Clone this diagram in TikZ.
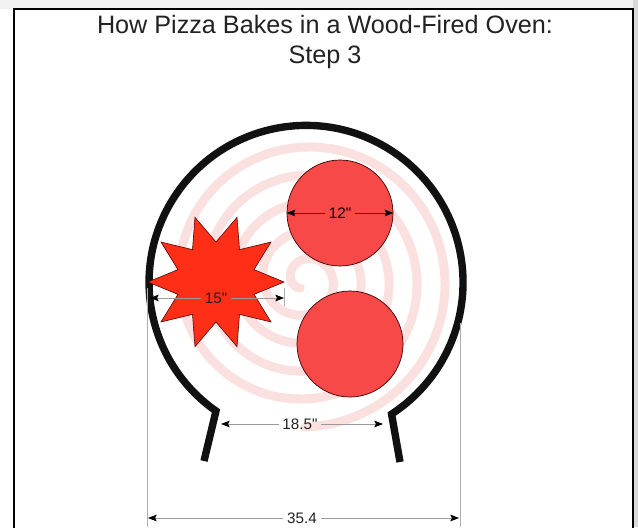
\documentclass[tikz,border=0pt]{standalone}
\usepackage{fontspec}
\setmainfont{Liberation Sans}[Ligatures=TeXOff]
\usetikzlibrary{arrows.meta,shapes.geometric}
\definecolor{OvenInk}{HTML}{111111}
\definecolor{PizzaRed}{HTML}{F74A48}
\definecolor{FlameRed}{HTML}{FF2E16}
\definecolor{SpiralPink}{HTML}{FBE0E0}
\definecolor{DimGray}{HTML}{9A9A9A}
\definecolor{TextDark}{HTML}{222222}
\tikzset{
  pizza/.style={circle,draw=black!75!red,line width=0.6pt,fill=PizzaRed,minimum size=3.18cm,inner sep=0pt},
  flame/.style={star,star points=10,star point ratio=1.7,shape border rotate=18,draw=black!65!red,line width=0.5pt,fill=FlameRed,minimum size=4.08cm,inner sep=0pt},
  ovenwall/.style={draw=OvenInk,line width=6.3pt,line join=miter},
  dimline/.style={draw=DimGray,line width=0.6pt,-{Stealth[length=2.6mm,width=2mm,inset=0.5mm,color=black]}},
  dimdark/.style={dimline,draw=black!85},
  extline/.style={draw=DimGray!80,line width=0.5pt},
  dimlabel/.style={font=\fontsize{13}{15}\selectfont,text=TextDark,inner sep=3pt},
  titletext/.style={font=\fontsize{21.5}{25.6}\selectfont,text=TextDark,align=center}
}
\begin{document}
\begin{tikzpicture}[x=0.03cm,y=-0.03cm]
\useasboundingbox (0,0) rectangle (638,527);
\fill[gray!10] (0,0) rectangle (638,9);
\fill[gray!30] (633,0) rectangle (638,527);
\draw[line width=1.2pt] (14,530) -- (14,9) -- (633,9) -- (633,530);

\node[titletext] (title) at (325,42) {How Pizza Bakes in a Wood-Fired Oven:\\Step 3};

% heat swirl
\draw[SpiralPink,line width=0.27cm,line cap=round]
  plot[domain=120:1890,samples=400,variable=\t] ({305+\t/360*28*cos(\t)},{280+\t/360*28*sin(\t)});

% oven wall
\coordinate (footL) at (204,461);
\coordinate (cornerL) at (216,411);
\coordinate (footR) at (400,462);
\draw[ovenwall] (footL) -- (cornerL) arc[start angle=125,end angle=417,radius=157] coordinate (cornerR) -- (footR);

\node[pizza] (pizzaA) at (340,213) {};
\node[pizza] (pizzaB) at (350,344) {};
\node[flame] (burnt) at (216,282) {};

% 12 inch
\node[dimlabel,text=black] (lbl12) at (pizzaA) {12"};
\draw[dimdark] (lbl12.west) -- (pizzaA.west);
\draw[dimdark] (lbl12.east) -- (pizzaA.east);

% 15 inch
\coordinate (dim15L) at (150,298);
\coordinate (dim15R) at (284,298);
\coordinate (tick15a) at (284,288);
\coordinate (tick15b) at (284,306);
\node[dimlabel] (lbl15) at (216,298) {15"};
\draw[dimline] (lbl15.west) -- (dim15L);
\draw[dimline] (lbl15.east) -- (dim15R);
\draw[extline] (tick15a) -- (tick15b);

% 18.5 inch
\coordinate (dim18L) at (221,424);
\coordinate (dim18R) at (383,424);
\node[dimlabel] (lbl18) at (300,424) {18.5"};
\draw[dimline] (lbl18.west) -- (dim18L);
\draw[dimline] (lbl18.east) -- (dim18R);

% 35.4 overall
\coordinate (extLtop) at (147,288);
\coordinate (extLbot) at (147,527);
\coordinate (extRtop) at (460,323);
\coordinate (extRbot) at (460,527);
\draw[extline] (extLtop) -- (extLbot);
\draw[extline] (extRtop) -- (extRbot);
\coordinate (dim35L) at (148,518);
\coordinate (dim35R) at (459,518);
\node[dimlabel] (lbl35) at (302,518) {35.4};
\draw[dimline] (lbl35.west) -- (dim35L);
\draw[dimline] (lbl35.east) -- (dim35R);
\end{tikzpicture}
\end{document}
